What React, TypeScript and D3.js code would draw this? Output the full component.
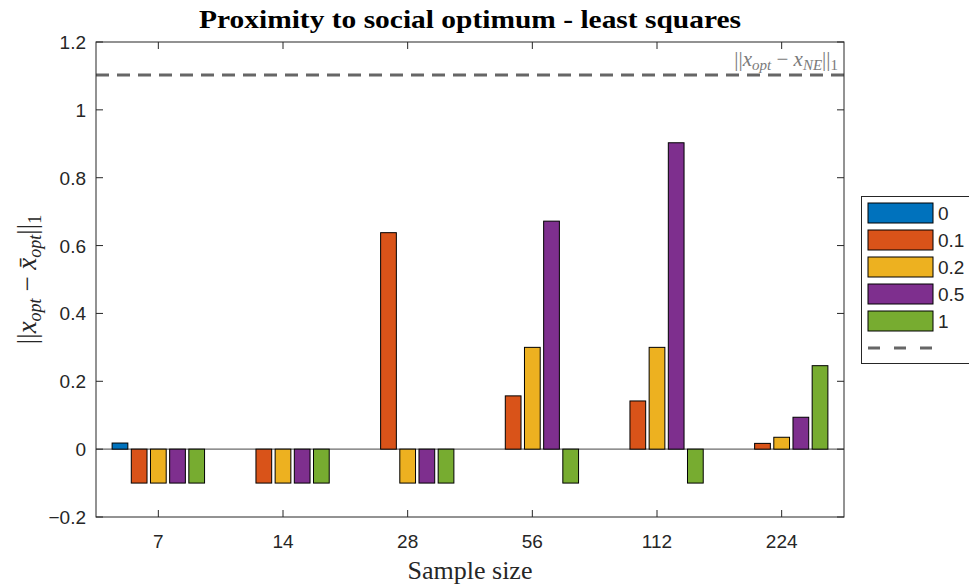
import * as d3 from 'd3';
import React from 'react';

// sample sizes on the x axis
const sampleSizes = ['7', '14', '28', '56', '112', '224'];
// legend entries (noise levels)
const seriesNames = ['0', '0.1', '0.2', '0.5', '1'];
const seriesColors = ['#0072BD', '#D95319', '#EDB120', '#7E2F8E', '#77AC30'];
// one array per series, one value per sample size
const s0 = [0.018, 0, 0, 0, 0, 0];
const s01 = [-0.1, -0.1, 0.638, 0.157, 0.142, 0.017];
const s02 = [-0.1, -0.1, -0.1, 0.3, 0.3, 0.035];
const s05 = [-0.1, -0.1, -0.1, 0.672, 0.903, 0.094];
const s1 = [-0.1, -0.1, -0.1, -0.1, -0.1, 0.246];
const series = [s0, s01, s02, s05, s1];
// reference value of the Nash equilibrium distance
const neDistance = 1.103;
const yTicks = [-0.2, 0, 0.2, 0.4, 0.6, 0.8, 1, 1.2];

const W = 969;
const H = 585;
const plot = { left: 96, right: 844, top: 42, bottom: 517 };

export default function App() {
  const x = d3.scaleLinear().domain([0.5, 6.5]).range([plot.left, plot.right]);
  const y = d3.scaleLinear().domain([-0.2, 1.2]).range([plot.bottom, plot.top]);

  // matlab style grouped bars
  const n = series.length;
  const groupWidth = Math.min(0.8, n / (n + 1.5));
  const step = groupWidth / n;
  const barW = x(step * 0.82) - x(0);
  const tickLen = 7;
  const axisColor = '#262626';
  const tickFont = "'Liberation Sans', Arial, sans-serif";
  const serif = "'Liberation Serif', 'DejaVu Serif', serif";

  return (
    <svg width={W} height={H} style={{ position: 'absolute', left: 0, top: 0 }}>
      <rect x={0} y={0} width={W} height={H} fill="#fff" />

      {/* title */}
      <text x={(plot.left + plot.right) / 2} y={28} textAnchor="middle"
        fontFamily={serif} fontWeight="bold" fontSize={25} fill="#000"
        textLength={542} lengthAdjust="spacingAndGlyphs">
        Proximity to social optimum - least squares
      </text>

      {/* zero baseline */}
      <line x1={plot.left} x2={plot.right} y1={y(0)} y2={y(0)} stroke="#6b6b6b" strokeWidth={1.3} />

      {/* bars */}
      {series.map((vals, j) =>
        vals.map((v, i) => {
          const cx = x(i + 1 + (j - (n - 1) / 2) * step);
          if (v === 0) return null;
          const y0 = y(0);
          const y1 = y(v);
          return (
            <rect key={`${j}-${i}`} x={cx - barW / 2} y={Math.min(y0, y1)} width={barW}
              height={Math.abs(y1 - y0)} fill={seriesColors[j]} stroke="#000" strokeWidth={1} />
          );
        })
      )}

      {/* NE dashed line */}
      <line x1={plot.left} x2={plot.right} y1={y(neDistance)} y2={y(neDistance)}
        stroke="#666" strokeWidth={3} strokeDasharray="13 8" />
      <text x={plot.right - 6} y={y(neDistance) - 9} textAnchor="end" fontFamily={serif}
        fontSize={21} fill="#7a7a7a">
        <tspan>||</tspan>
        <tspan fontStyle="italic">x</tspan>
        <tspan fontStyle="italic" fontSize={15} dy={4}>opt</tspan>
        <tspan dy={-4}> − </tspan>
        <tspan fontStyle="italic">x</tspan>
        <tspan fontStyle="italic" fontSize={15} dy={4}>NE</tspan>
        <tspan dy={-4}>||</tspan>
        <tspan fontSize={15} dy={4}>1</tspan>
      </text>

      {/* axes box */}
      <rect x={plot.left} y={plot.top} width={plot.right - plot.left} height={plot.bottom - plot.top}
        fill="none" stroke={axisColor} strokeWidth={1} />

      {/* x ticks */}
      {sampleSizes.map((s, i) => (
        <g key={s}>
          <line x1={x(i + 1)} x2={x(i + 1)} y1={plot.bottom} y2={plot.bottom - tickLen} stroke={axisColor} />
          <line x1={x(i + 1)} x2={x(i + 1)} y1={plot.top} y2={plot.top + tickLen} stroke={axisColor} />
          <text x={x(i + 1)} y={plot.bottom + 31} textAnchor="middle" fontFamily={tickFont}
            fontSize={19} fill={axisColor}>{s}</text>
        </g>
      ))}

      {/* y ticks */}
      {yTicks.map((t) => (
        <g key={t}>
          <line x1={plot.left} x2={plot.left + tickLen} y1={y(t)} y2={y(t)} stroke={axisColor} />
          <line x1={plot.right} x2={plot.right - tickLen} y1={y(t)} y2={y(t)} stroke={axisColor} />
          <text x={plot.left - 10} y={y(t) + 7} textAnchor="end" fontFamily={tickFont}
            fontSize={19} fill={axisColor}>{d3.format('~g')(t)}</text>
        </g>
      ))}

      {/* x label */}
      <text x={(plot.left + plot.right) / 2} y={579} textAnchor="middle" fontFamily={serif}
        fontSize={26} fill={axisColor}>Sample size</text>

      {/* y label */}
      <text transform={`translate(36,${(plot.top + plot.bottom) / 2}) rotate(-90)`} textAnchor="middle"
        fontFamily={serif} fontSize={27} fill={axisColor}>
        <tspan>||</tspan>
        <tspan fontStyle="italic">x</tspan>
        <tspan fontStyle="italic" fontSize={18} dy={5}>opt</tspan>
        <tspan dy={-5}> − </tspan>
        <tspan fontStyle="italic">x̄</tspan>
        <tspan fontStyle="italic" fontSize={18} dy={5}>opt</tspan>
        <tspan dy={-5}>||</tspan>
        <tspan fontSize={18} dy={5}>1</tspan>
      </text>

      {/* legend */}
      <g>
        <rect x={861.5} y={196.5} width={120} height={167} fill="#fff" stroke={axisColor} strokeWidth={1} />
        {seriesNames.map((name, j) => (
          <g key={name}>
            <rect x={868} y={203 + j * 27} width={65} height={20} fill={seriesColors[j]} stroke="#000" strokeWidth={1} />
            <text x={938} y={213 + j * 27 + 7} fontFamily={tickFont} fontSize={19} fill={axisColor}>{name}</text>
          </g>
        ))}
        <line x1={868} x2={933} y1={348} y2={348} stroke="#666" strokeWidth={3} strokeDasharray="12 14" />
      </g>
    </svg>
  );
}
